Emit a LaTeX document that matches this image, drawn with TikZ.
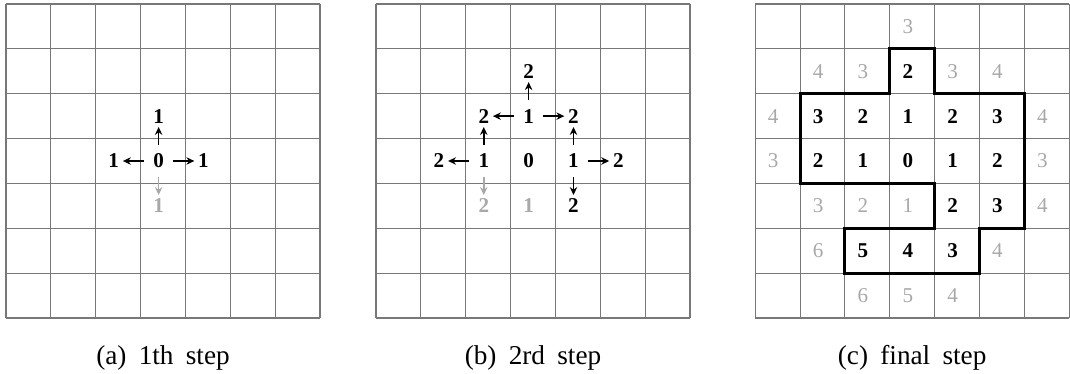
\documentclass[tikz,border=0pt]{standalone}
\usepackage{fontspec}
\setmainfont{Liberation Serif}
\usetikzlibrary{arrows.meta}

\definecolor{gridgray}{RGB}{120,120,120}
\definecolor{numgray}{RGB}{168,168,168}

\tikzset{
  gridline/.style={draw=gridgray, line width=0.6pt, step={(1,1)}},
  num/.style={font=\fontsize{12}{14}\selectfont\bfseries, inner sep=1pt, xshift=-2.5pt},
  faint/.style={num, text=numgray},
  faintthin/.style={num, text=numgray, font=\fontsize{12}{14}\selectfont},
  go/.style={-{Stealth[length=4.5pt, width=4.2pt]}, line width=0.9pt, shorten <=4pt, shorten >=1pt},
  gogray/.style={go, draw=numgray},
  region/.style={line width=1.7pt, line join=miter},
  caption/.style={font=\fontsize{15.5}{18}\selectfont, anchor=base}
}

\begin{document}
\begin{tikzpicture}[x=0.8972cm, y=0.8972cm]
\def\bx{8.248}
\def\cx{16.70}
\useasboundingbox (-0.134,-1.248) rectangle (23.718,7.089);

% (a) first step
\draw[gridline] (0,0) grid (7,7);
\node[num] (a0) at (3.5,3.5) {0};
\node[num] (aU) at (3.5,4.5) {1};
\node[num] (aL) at (2.5,3.5) {1};
\node[num] (aR) at (4.5,3.5) {1};
\node[faint] (aD) at (3.5,2.5) {1};
\draw[go] (a0) -- (aU);
\draw[go] (a0) -- (aL);
\draw[go] (a0) -- (aR);
\draw[gogray] (a0) -- (aD);
\node[caption] (capA) at (3.5,-1.03) {(a)\hspace{0.45em}1th\hspace{0.45em}step};

% (b) second step
\begin{scope}[shift={(\bx,0)}]
\draw[gridline] (0,0) grid (7,7);
\node[num] (b0) at (3.5,3.5) {0};
\node[num] (bU) at (3.5,4.5) {1};
\node[num] (bUU) at (3.5,5.5) {2};
\node[num] (bUL) at (2.5,4.5) {2};
\node[num] (bUR) at (4.5,4.5) {2};
\node[num] (bL) at (2.5,3.5) {1};
\node[num] (bLL) at (1.5,3.5) {2};
\node[faint] (bLD) at (2.5,2.5) {2};
\node[num] (bR) at (4.5,3.5) {1};
\node[num] (bRR) at (5.5,3.5) {2};
\node[num] (bRD) at (4.5,2.5) {2};
\node[faint] (bD) at (3.5,2.5) {1};
\draw[go] (bU) -- (bUU);
\draw[go] (bU) -- (bUL);
\draw[go] (bU) -- (bUR);
\draw[go] (bL) -- (bUL);
\draw[go] (bL) -- (bLL);
\draw[gogray] (bL) -- (bLD);
\draw[go] (bR) -- (bUR);
\draw[go] (bR) -- (bRR);
\draw[go] (bR) -- (bRD);
\node[caption] (capB) at (3.5,-1.03) {(b)\hspace{0.45em}2rd\hspace{0.45em}step};
\end{scope}

% (c) final step
\begin{scope}[shift={(\cx,0)}]
\draw[gridline] (0,0) grid (7,7);
\node[faintthin] (c03) at (3.5,6.5) {3};
\node[faintthin] (c11) at (1.5,5.5) {4};
\node[faintthin] (c12) at (2.5,5.5) {3};
\node[num] (c13) at (3.5,5.5) {2};
\node[faintthin] (c14) at (4.5,5.5) {3};
\node[faintthin] (c15) at (5.5,5.5) {4};
\node[faintthin] (c20) at (0.5,4.5) {4};
\node[num] (c21) at (1.5,4.5) {3};
\node[num] (c22) at (2.5,4.5) {2};
\node[num] (c23) at (3.5,4.5) {1};
\node[num] (c24) at (4.5,4.5) {2};
\node[num] (c25) at (5.5,4.5) {3};
\node[faintthin] (c26) at (6.5,4.5) {4};
\node[faintthin] (c30) at (0.5,3.5) {3};
\node[num] (c31) at (1.5,3.5) {2};
\node[num] (c32) at (2.5,3.5) {1};
\node[num] (c33) at (3.5,3.5) {0};
\node[num] (c34) at (4.5,3.5) {1};
\node[num] (c35) at (5.5,3.5) {2};
\node[faintthin] (c36) at (6.5,3.5) {3};
\node[faintthin] (c41) at (1.5,2.5) {3};
\node[faintthin] (c42) at (2.5,2.5) {2};
\node[faintthin] (c43) at (3.5,2.5) {1};
\node[num] (c44) at (4.5,2.5) {2};
\node[num] (c45) at (5.5,2.5) {3};
\node[faintthin] (c46) at (6.5,2.5) {4};
\node[faintthin] (c51) at (1.5,1.5) {6};
\node[num] (c52) at (2.5,1.5) {5};
\node[num] (c53) at (3.5,1.5) {4};
\node[num] (c54) at (4.5,1.5) {3};
\node[faintthin] (c55) at (5.5,1.5) {4};
\node[faintthin] (c62) at (2.5,0.5) {6};
\node[faintthin] (c63) at (3.5,0.5) {5};
\node[faintthin] (c64) at (4.5,0.5) {4};
\draw[region] (3,6) -- (4,6) -- (4,5) -- (6,5) -- (6,2) -- (5,2) -- (5,1)
  -- (2,1) -- (2,2) -- (4,2) -- (4,3) -- (1,3) -- (1,5) -- (3,5) -- cycle;
\node[caption] (capC) at (3.5,-1.03) {(c)\hspace{0.45em}final\hspace{0.45em}step};
\end{scope}
\end{tikzpicture}
\end{document}
